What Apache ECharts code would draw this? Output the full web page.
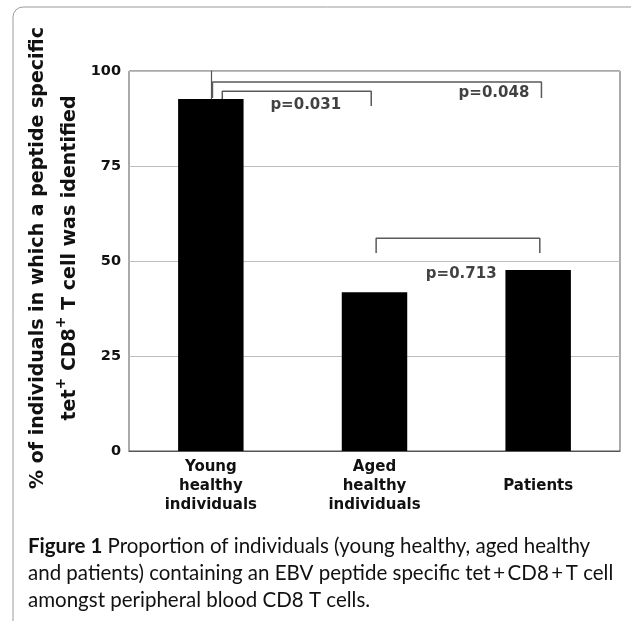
<!DOCTYPE html>
<html>
<head>
<meta charset="utf-8">
<script src="https://cdn.jsdelivr.net/npm/echarts@6/dist/echarts.min.js"></script>
<style>
html,body{margin:0;padding:0;background:#fff;}
#chart{width:631px;height:621px;}
</style>
</head>
<body>
<div id="chart"></div>
<script>
// ---- data ----
var categories = ['Young\nhealthy\nindividuals', 'Aged\nhealthy\nindividuals', 'Patients'];
var values = [92.6, 41.8, 47.6];
var yMin = 0, yMax = 100, yInterval = 25;

var pLabels = ['p=0.031', 'p=0.048', 'p=0.713'];
var bracketLeftX = [0.07, 0.01, 1.01];
var bracketRightX = [0.98, 2.02, 2.01];
var bracketTopY = [94.7, 97.1, 56.0];
var bracketLeftEndY = [92.6, 92.9, 52.1];
var bracketRightEndY = [90.8, 92.9, 52.1];
var pLabelX = [0.58, 1.73, 1.53];
var pLabelY = [91.0, 94.2, 46.6];

var yTitle1 = '% of individuals in which a peptide specific';
var yTitle2a = 'tet', yTitle2b = ' CD8', yTitle2c = ' T cell was identified', supText = '+';
var captionBold = 'Figure 1';
var captionLines = [
  ' Proportion of individuals (young healthy, aged healthy',
  'and patients) containing an EBV peptide specific tet\u2009+\u2009CD8\u2009+\u2009T cell',
  'amongst peripheral blood CD8 T cells.'
];

// ---- chart ----
var font = 'DejaVu Sans';
var chart = echarts.init(document.getElementById('chart'), null, {renderer: 'canvas'});

var bracketSeries = pLabels.map(function (lbl, i) {
  return {
    type: 'line',
    xAxisIndex: 1,
    yAxisIndex: 0,
    data: [
      [bracketLeftX[i], bracketLeftEndY[i]],
      [bracketLeftX[i], bracketTopY[i]],
      [bracketRightX[i], bracketTopY[i]],
      [bracketRightX[i], bracketRightEndY[i]]
    ],
    symbol: 'none',
    lineStyle: {color: '#5a5a5a', width: 1.5},
    silent: true,
    animation: false,
    z: 3
  };
});

var option = {
  animation: false,
  backgroundColor: '#fff',
  title: {
    left: 28,
    top: 532.5,
    padding: 0,
    text: '{b|' + captionBold + '}' + captionLines.join('\n'),
    textStyle: {
      fontFamily: 'Lato',
      fontSize: 20.5,
      fontWeight: 'normal',
      color: '#111',
      lineHeight: 27,
      rich: {
        b: {fontFamily: 'Lato', fontSize: 20.5, fontWeight: 'bold', color: '#111', lineHeight: 27}
      }
    }
  },
  graphic: [{
    type: 'rect',
    shape: {x: 13, y: 7, width: 700, height: 700, r: 10},
    style: {fill: 'none', stroke: '#9a9a9a', lineWidth: 1},
    silent: true,
    z: -10
  }, {
    type: 'text',
    x: 54.5,
    y: 258,
    rotation: Math.PI / 2,
    silent: true,
    style: {
      text: '{t|' + yTitle1 + '}\n{t|' + yTitle2a + '}{s|' + supText + '}{t|' + yTitle2b + '}{s|' + supText + '}{t|' + yTitle2c + '}',
      align: 'center',
      verticalAlign: 'middle',
      fontFamily: font, fontSize: 19, fontWeight: 'bold', fill: '#111', lineHeight: 32,
      rich: {
        t: {fontFamily: font, fontSize: 19, fontWeight: 'bold', color: '#111', lineHeight: 32},
        s: {fontFamily: font, fontSize: 14, fontWeight: 'bold', color: '#111', lineHeight: 14, verticalAlign: 'top'}
      }
    }
  }],
  grid: {
    left: 129, right: 11, top: 71, bottom: 170,
    show: true, borderColor: '#555', borderWidth: 1, backgroundColor: 'transparent'
  },
  xAxis: [{
    type: 'category',
    data: categories,
    axisLine: {show: true, lineStyle: {color: '#555', width: 1.2}},
    axisTick: {show: false},
    axisLabel: {
      fontFamily: font, fontSize: 15, fontWeight: 'bold', color: '#111',
      lineHeight: 19, margin: 7, interval: 0,
      formatter: function (v) { return v.indexOf('\n') < 0 ? '\n' + v : v; }
    },
    splitLine: {show: false}
  }, {
    type: 'value',
    min: -0.5, max: 2.5,
    show: false,
    position: 'bottom'
  }],
  yAxis: {
    type: 'value',
    min: yMin, max: yMax, interval: yInterval,
    axisLine: {show: true, lineStyle: {color: '#555', width: 1.2}},
    axisTick: {show: false},
    axisLabel: {fontFamily: font, fontSize: 14.5, fontWeight: 'bold', color: '#111', margin: 8},
    splitLine: {show: true, lineStyle: {color: '#bdbdbd', width: 1}}
  },
  series: [{
    type: 'bar',
    data: values,
    barWidth: '40%',
    itemStyle: {color: '#000'},
    z: 2
  }].concat(bracketSeries).concat([{
    type: 'scatter',
    xAxisIndex: 1,
    yAxisIndex: 0,
    symbolSize: 0,
    data: pLabels.map(function (l, i) { return [pLabelX[i], pLabelY[i], l]; }),
    label: {
      show: true, position: 'inside',
      formatter: function (p) { return p.data[2]; },
      fontFamily: font, fontSize: 15, fontWeight: 'bold', color: '#111'
    },
    silent: true,
    z: 4
  }])
};
chart.setOption(option);
</script>
</body>
</html>
